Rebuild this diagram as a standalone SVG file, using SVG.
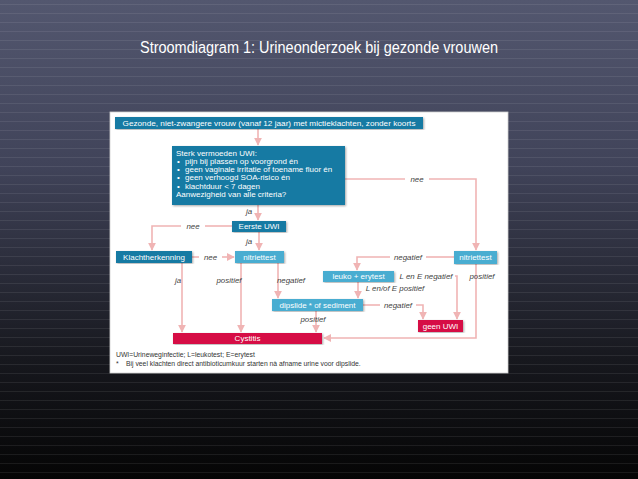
<svg xmlns="http://www.w3.org/2000/svg" width="638" height="479" viewBox="0 0 638 479">
<defs>
<linearGradient id="bg" x1="0" y1="0" x2="0" y2="1">
<stop offset="0" stop-color="#53576f"/>
<stop offset="0.35" stop-color="#404359"/>
<stop offset="0.75" stop-color="#17181e"/>
<stop offset="1" stop-color="#050505"/>
</linearGradient>
<pattern id="lines" width="638" height="9" patternUnits="userSpaceOnUse">
<rect x="0" y="4" width="638" height="1" fill="#ffffff" opacity="0.08"/>
</pattern>
<filter id="sh" x="-5%" y="-5%" width="110%" height="110%">
<feDropShadow dx="1" dy="1" stdDeviation="1" flood-color="#000" flood-opacity="0.35"/>
</filter>
<marker id="ah" viewBox="0 0 10 10" refX="9" refY="5" markerWidth="5" markerHeight="5" orient="auto">
<path d="M0,0 L10,5 L0,10 z" fill="#f0b4b4"/>
</marker>
<style>
.dk{fill:#137aa3;filter:url(#sh)}
.lt{fill:#4aadd1;filter:url(#sh)}
.rd{fill:#d60a44;filter:url(#sh)}
.bt{font-family:"Liberation Sans",Arial,sans-serif;font-size:8px;fill:#ffffff}
.lb{font-family:"Liberation Sans",Arial,sans-serif;font-size:7.9px;fill:#444;font-style:italic}
.c{fill:none;stroke:#f0b4b4;stroke-width:1.6}
.a{marker-end:url(#ah)}
.ft{font-family:"Liberation Sans",Arial,sans-serif;font-size:6.8px;fill:#333}
</style>
</defs>
<rect width="638" height="479" fill="url(#bg)"/>
<rect width="638" height="479" fill="url(#lines)"/>
<text x="319" y="53" text-anchor="middle" font-family="'Liberation Sans',Arial,sans-serif" font-size="16" fill="#ffffff" textLength="358" lengthAdjust="spacingAndGlyphs">Stroomdiagram 1: Urineonderzoek bij gezonde vrouwen</text>
<rect x="110" y="112" width="398" height="261" fill="#ffffff" stroke="#cfcfcf" stroke-width="0.8"/>

<g id="connectors">
<path class="c a" d="M258,129 V145"/>
<path class="c" d="M345,179 H405"/>
<path class="c a" d="M429,179 H476 V250"/>
<text class="lb" x="417" y="181.8" text-anchor="middle">nee</text>
<path class="c a" d="M258,205 V220"/>
<text class="lb" x="249" y="213.5" text-anchor="middle">ja</text>
<path class="c" d="M232,226 H205"/>
<path class="c a" d="M181,226 H152 V250"/>
<text class="lb" x="193" y="228.8" text-anchor="middle">nee</text>
<path class="c a" d="M259,232 V250"/>
<text class="lb" x="249" y="243.5" text-anchor="middle">ja</text>
<path class="c" d="M192,257 H199"/>
<path class="c a" d="M222,257 H234"/>
<text class="lb" x="210.5" y="259.8" text-anchor="middle">nee</text>
<path class="c a" d="M182,263 V332"/>
<text class="lb" x="178" y="282.5" text-anchor="middle">ja</text>
<path class="c a" d="M241,263 V332"/>
<text class="lb" x="229" y="282.5" text-anchor="middle">positief</text>
<path class="c a" d="M278,263 V298"/>
<text class="lb" x="291" y="282.5" text-anchor="middle">negatief</text>
<path class="c a" d="M316,311 V332"/>
<text class="lb" x="313" y="321.5" text-anchor="middle">positief</text>
<path class="c" d="M454,257 H426"/>
<path class="c a" d="M390,257 H357 V270"/>
<text class="lb" x="408" y="259.8" text-anchor="middle">negatief</text>
<path class="c a" d="M476,264 V338 H324"/>
<text class="lb" x="482" y="278.5" text-anchor="middle">positief</text>
<text class="lb" x="426" y="278.8" text-anchor="middle">L en E negatief</text>
<path class="c a" d="M455,276 H457 V319"/>
<path class="c a" d="M358,282 V298"/>
<text class="lb" x="395" y="291.3" text-anchor="middle">L en/of E positief</text>
<path class="c" d="M363,305 H380"/>
<text class="lb" x="398" y="307.8" text-anchor="middle">negatief</text>
<path class="c a" d="M416,305 H423 V319"/>
</g>

<g id="start">
<rect class="dk" x="115" y="117" width="308" height="12"/>
<text class="bt" x="269" y="125.8" text-anchor="middle" textLength="293" lengthAdjust="spacingAndGlyphs">Gezonde, niet-zwangere vrouw (vanaf 12 jaar) met mictieklachten, zonder koorts</text>
</g>
<g id="criteria">
<rect class="dk" x="172" y="146" width="173" height="59"/>
<text class="bt" x="176" y="155.8">Sterk vermoeden UWI:</text>
<text class="bt" x="177" y="164">•</text><text class="bt" x="185" y="164">pijn bij plassen op voorgrond én</text>
<text class="bt" x="177" y="172.2">•</text><text class="bt" x="185" y="172.2">geen vaginale irritatie of toename fluor én</text>
<text class="bt" x="177" y="180.4">•</text><text class="bt" x="185" y="180.4">geen verhoogd SOA-risico én</text>
<text class="bt" x="177" y="188.6">•</text><text class="bt" x="185" y="188.6">klachtduur &lt; 7 dagen</text>
<text class="bt" x="176" y="196.8">Aanwezigheid van alle criteria?</text>
</g>
<g id="eerste-uwi">
<rect class="dk" x="232" y="221" width="54" height="11"/>
<text class="bt" x="259" y="229.3" text-anchor="middle">Eerste UWI</text>
</g>
<g id="klachtherkenning">
<rect class="dk" x="116" y="251" width="76" height="12"/>
<text class="bt" x="154" y="259.8" text-anchor="middle">Klachtherkenning</text>
</g>
<g id="nitriettest-1">
<rect class="lt" x="235" y="251" width="49" height="12"/>
<text class="bt" x="259.5" y="259.8" text-anchor="middle">nitriettest</text>
</g>
<g id="nitriettest-2">
<rect class="lt" x="454" y="251" width="43" height="13"/>
<text class="bt" x="475.5" y="260.3" text-anchor="middle">nitriettest</text>
</g>
<g id="leuko-erytest">
<rect class="lt" x="323" y="271" width="71" height="11"/>
<text class="bt" x="358.5" y="279.3" text-anchor="middle">leuko + erytest</text>
</g>
<g id="dipslide">
<rect class="lt" x="272" y="299" width="91" height="12"/>
<text class="bt" x="317.5" y="307.8" text-anchor="middle">dipslide * of sediment</text>
</g>
<g id="geen-uwi">
<rect class="rd" x="418" y="320" width="45" height="12"/>
<text class="bt" x="440.5" y="328.8" text-anchor="middle">geen UWI</text>
</g>
<g id="cystitis">
<rect class="rd" x="173" y="333" width="149" height="11"/>
<text class="bt" x="247.5" y="341.3" text-anchor="middle">Cystitis</text>
</g>
<g id="footnote">
<text class="ft" x="116" y="357">UWI=Urineweginfectie; L=leukotest; E=erytest</text>
<text class="ft" x="116" y="365.5">*</text>
<text class="ft" x="126" y="365.5">Bij veel klachten direct antibioticumkuur starten nà afname urine voor dipslide.</text>
</g>
</svg>
